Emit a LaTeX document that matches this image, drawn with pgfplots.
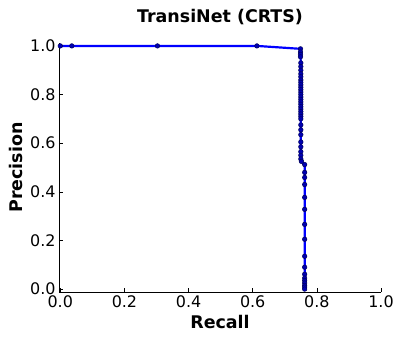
\documentclass[border=0pt]{standalone}
\usepackage{pgfplots}
\pgfplotsset{compat=1.18}
\usepackage{fontspec}
\setmainfont{DejaVu Sans}
\begin{document}
\begin{tikzpicture}
\begin{axis}[
    at={(0,0)}, anchor=south west,
    scale only axis,
    width=322bp, height=249bp,
    xmin=-0.004, xmax=1.0,
    ymin=-0.012, ymax=1.012,
    axis x line*=bottom, axis y line*=left,
    axis line style={line width=0.8pt},
    tick align=inside,
    major tick length=4bp,
    tick style={black, line width=0.6pt},
    xtick={0,0.2,0.4,0.6,0.8,1.0},
    ytick={0,0.2,0.4,0.6,0.8,1.0},
    xticklabel style={/pgf/number format/.cd, fixed, fixed zerofill, precision=1},
    yticklabel style={/pgf/number format/.cd, fixed, fixed zerofill, precision=1},
    /pgf/number format/assume math mode=true,
    ticklabel style={font=\fontsize{16}{18}\selectfont},
    xtick pos=bottom, ytick pos=left,
    title={\textbf{TransiNet (CRTS)}},
    title style={font=\fontsize{17.5}{20}\selectfont, yshift=9bp},
    xlabel={\textbf{Recall}},
    ylabel={\textbf{Precision}},
    label style={font=\fontsize{17.5}{20}\selectfont},
    xlabel style={yshift=-1bp},
    ylabel style={yshift=1bp},
    clip=false,
]
\addplot[color=blue, line width=2.2pt, mark=*, mark size=2.3bp,
    mark options={fill=blue!70!black, draw=blue!35!black, line width=0.5pt}]
coordinates {
(0.0,1.0)(0.036,1.0)(0.303,1.0)(0.613,1.0)
(0.749,0.988)(0.749,0.975)(0.749,0.965)(0.749,0.955)
(0.750,0.93)(0.750,0.915)(0.750,0.90)(0.750,0.885)(0.750,0.873)
(0.750,0.86)(0.750,0.85)(0.750,0.84)(0.750,0.83)(0.750,0.82)(0.750,0.81)
(0.750,0.80)(0.750,0.79)(0.750,0.78)(0.750,0.77)(0.750,0.76)(0.750,0.75)
(0.750,0.74)(0.750,0.73)(0.750,0.72)(0.750,0.71)(0.750,0.70)
(0.750,0.675)(0.750,0.655)(0.750,0.635)(0.750,0.605)(0.750,0.585)
(0.750,0.565)(0.750,0.55)(0.750,0.535)(0.752,0.525)
(0.762,0.512)(0.762,0.48)(0.762,0.459)(0.762,0.43)(0.762,0.377)
(0.762,0.328)(0.762,0.266)(0.762,0.205)(0.762,0.135)(0.762,0.09)
(0.762,0.061)(0.762,0.045)(0.762,0.035)(0.762,0.025)(0.762,0.015)
(0.762,0.008)(0.762,0.0)
};
\end{axis}
\pgfresetboundingbox
\path[use as bounding box] (-59bp,-49bp) rectangle (340bp,292bp);
\end{tikzpicture}
\end{document}
